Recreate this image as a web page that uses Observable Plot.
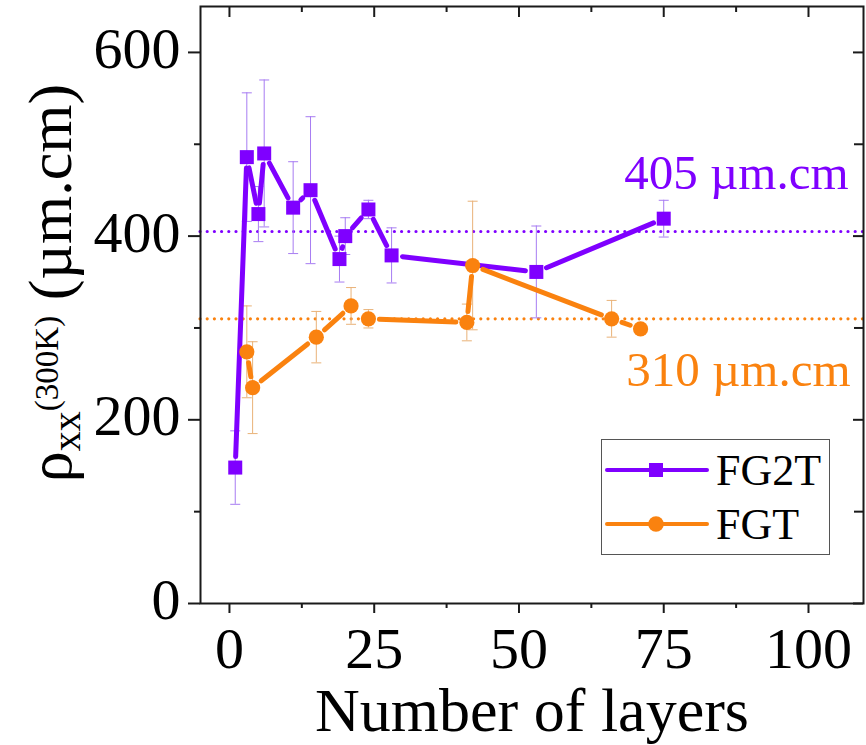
<!DOCTYPE html>
<html>
<head>
<meta charset="utf-8">
<script src="https://cdn.jsdelivr.net/npm/d3@7"></script>
<script src="https://cdn.jsdelivr.net/npm/@observablehq/plot@0.6"></script>
<style>
  html, body { margin: 0; padding: 0; background: #fff; }
  #chart svg { display: block; }
</style>
</head>
<body>
<div id="chart"></div>
<script>
// Room-temperature resistivity vs. number of layers
const fg2tLayers = [1, 3, 5, 6, 11, 14, 19, 20, 24, 28, 53, 75];
const fg2tRho    = [148, 486, 424, 490, 431, 450, 375, 400, 429, 379, 361, 419];
const fg2tErr    = [40, 70, 30, 80, 50, 80, 25, 20, 10, 30, 50, 20];

const fgtLayers = [3, 4, 15, 21, 24, 41, 42, 66, 71];
const fgtRho    = [274, 235, 290, 324, 310, 306, 368, 310, 299];
const fgtErr    = [50, 50, 28, 20, 10, 20, 70, 20, 0];

const fg2tMean = 405;
const fgtMean = 310;

const xMajorTicks = [0, 25, 50, 75, 100];
const xMinorTicks = [12.5, 37.5, 62.5, 87.5];
const yMajorTicks = [0, 200, 400, 600];
const yMinorTicks = [100, 300, 500];

const purple = "#7f00ff";
const orange = "#fa820f";
const purpleErr = "#a77cf2";
const orangeErr = "#e9b278";
const serif = "'Liberation Serif', 'Times New Roman', serif";

const W = 866, H = 745;
const margin = {top: 6, right: 3, bottom: 142, left: 200};
const frameW = W - margin.left - margin.right;
const frameH = H - margin.top - margin.bottom;

const toRows = (xs, ys, es) => xs.map((x, i) => ({layers: x, rho: ys[i], err: es[i]}));
const fg2t = toRows(fg2tLayers, fg2tRho, fg2tErr);
const fgt = toRows(fgtLayers, fgtRho, fgtErr);
const segments = rows => d3.pairs(rows).map(([a, b]) => ({x1: a.layers, y1: a.rho, x2: b.layers, y2: b.rho}));

// horizontal cap for error bars
const capSymbol = {
  draw(context, size) {
    const r = Math.sqrt(size / Math.PI);
    context.moveTo(-r, 0);
    context.lineTo(r, 0);
  }
};

function errorMarks(rows, color) {
  const withErr = rows.filter(d => d.err > 0);
  return [
    Plot.ruleX(withErr, {x: "layers", y1: d => d.rho - d.err, y2: d => d.rho + d.err, stroke: color, strokeWidth: 1}),
    Plot.dot(withErr, {x: "layers", y: d => d.rho + d.err, symbol: capSymbol, r: 5, fill: "none", stroke: color, strokeWidth: 1}),
    Plot.dot(withErr, {x: "layers", y: d => d.rho - d.err, symbol: capSymbol, r: 5, fill: "none", stroke: color, strokeWidth: 1})
  ];
}

function seriesLine(rows, color) {
  return Plot.arrow(segments(rows), {
    x1: "x1", y1: "y1", x2: "x2", y2: "y2",
    stroke: color, strokeWidth: 5, headLength: 0,
    insetStart: 11, insetEnd: 11, strokeLinecap: "round"
  });
}

const axisStroke = "#1a1a1a";

const chart = Plot.plot({
  width: W,
  height: H,
  marginLeft: margin.left,
  marginRight: margin.right,
  marginTop: margin.top,
  marginBottom: margin.bottom,
  style: {fontFamily: serif, background: "#fff", color: "#000"},
  x: {domain: [-5, 109.5]},
  y: {domain: [0, 650]},
  marks: [
    // mean-value guides
    Plot.ruleY([fg2tMean], {stroke: purple, strokeWidth: 3.2, strokeDasharray: "0,7.2", strokeLinecap: "round"}),
    Plot.ruleY([fgtMean], {stroke: orange, strokeWidth: 3.2, strokeDasharray: "0,7.2", strokeLinecap: "round"}),

    ...errorMarks(fg2t, purpleErr),
    ...errorMarks(fgt, orangeErr),

    seriesLine(fg2t, purple),
    Plot.dot(fg2t, {x: "layers", y: "rho", symbol: "square", r: 7.9, fill: purple, stroke: "none"}),

    seriesLine(fgt, orange),
    Plot.dot(fgt, {x: "layers", y: "rho", symbol: "circle", r: 7.6, fill: orange, stroke: "none"}),

    Plot.text([`${fg2tMean} µm.cm`], {
      y: () => fg2tMean, frameAnchor: "right", textAnchor: "end", lineAnchor: "bottom",
      dx: -15, dy: -43, fontSize: 49, fill: purple, fontFamily: serif
    }),
    Plot.text([`${fgtMean} µm.cm`], {
      y: () => fgtMean, frameAnchor: "right", textAnchor: "end", lineAnchor: "bottom",
      dx: -13, dy: 67, fontSize: 49, fill: orange, fontFamily: serif
    }),

    // bottom axis: ticks outside, labels
    Plot.axisX({anchor: "bottom", ticks: xMajorTicks, tickSize: 10, strokeWidth: 2, stroke: axisStroke, fill: "none", label: null}),
    Plot.axisX({anchor: "bottom", ticks: xMinorTicks, tickSize: 5, strokeWidth: 2, stroke: axisStroke, fill: "none", label: null}),
    Plot.axisX({anchor: "bottom", ticks: xMajorTicks, tickSize: 0, tickPadding: 23, fontSize: 58, fontFamily: serif, fill: "#000", label: null}),
    // top edge: ticks pointing inward
    Plot.ruleX(xMajorTicks, {x: d => d, insetBottom: frameH - 11, stroke: axisStroke, strokeWidth: 2}),
    Plot.ruleX(xMinorTicks, {x: d => d, insetBottom: frameH - 6, stroke: axisStroke, strokeWidth: 2}),

    // left axis: ticks outside, labels
    Plot.axisY({anchor: "left", ticks: yMajorTicks, tickSize: 12, strokeWidth: 2, stroke: axisStroke, fill: "none", label: null}),
    Plot.axisY({anchor: "left", ticks: yMinorTicks, tickSize: 6, strokeWidth: 2, stroke: axisStroke, fill: "none", label: null}),
    Plot.axisY({anchor: "left", ticks: yMajorTicks, tickSize: 0, tickPadding: 20, dy: -3, fontSize: 58, fontFamily: serif, fill: "#000", label: null}),
    // right edge: ticks pointing inward
    Plot.ruleY(yMajorTicks, {y: d => d, insetLeft: frameW - 10, stroke: axisStroke, strokeWidth: 2}),
    Plot.ruleY(yMinorTicks, {y: d => d, insetLeft: frameW - 9, stroke: axisStroke, strokeWidth: 2}),

    Plot.text(["Number of layers"], {
      frameAnchor: "bottom", lineAnchor: "bottom", dy: 127,
      fontSize: 62, fontFamily: serif, fill: "#000"
    }),

    Plot.frame({stroke: axisStroke, strokeWidth: 2})
  ]
});

document.getElementById("chart").appendChild(chart);

const svg = d3.select(chart);

// y-axis title with subscript and superscript
const yTitle = svg.append("text")
  .attr("transform", "translate(71,283) rotate(-90)")
  .attr("text-anchor", "middle")
  .attr("font-family", serif)
  .attr("font-size", 62)
  .attr("fill", "#000");
yTitle.append("tspan").text("ρ");
yTitle.append("tspan").attr("font-size", 40).attr("dy", 9).text("xx");
yTitle.append("tspan").attr("font-size", 33).attr("dy", -22).text("(300K)");
yTitle.append("tspan").attr("dy", 13).text(" (µm.cm)");

// legend
const legendItems = [
  {label: "FG2T", color: purple, symbol: "square"},
  {label: "FGT", color: orange, symbol: "circle"}
];
const legend = svg.append("g").attr("font-family", serif).attr("text-anchor", "start");
legend.append("rect")
  .attr("x", 601.5).attr("y", 439.5).attr("width", 228).attr("height", 115)
  .attr("fill", "#fff").attr("stroke", "#555").attr("stroke-width", 1);
legendItems.forEach((item, i) => {
  const cy = 470 + i * 54;
  const g = legend.append("g");
  g.append("line")
    .attr("x1", 607).attr("x2", 707).attr("y1", cy).attr("y2", cy)
    .attr("stroke", item.color).attr("stroke-width", 4).attr("stroke-linecap", "round");
  if (item.symbol === "square") {
    g.append("rect").attr("x", 649).attr("y", cy - 7).attr("width", 14).attr("height", 14).attr("fill", item.color);
  } else {
    g.append("circle").attr("cx", 656).attr("cy", cy).attr("r", 7.8).attr("fill", item.color);
  }
  g.append("text")
    .attr("x", 716).attr("y", cy + 15)
    .attr("font-size", 44).attr("fill", "#000")
    .attr("text-anchor", "start")
    .text(item.label);
});
</script>
</body>
</html>
